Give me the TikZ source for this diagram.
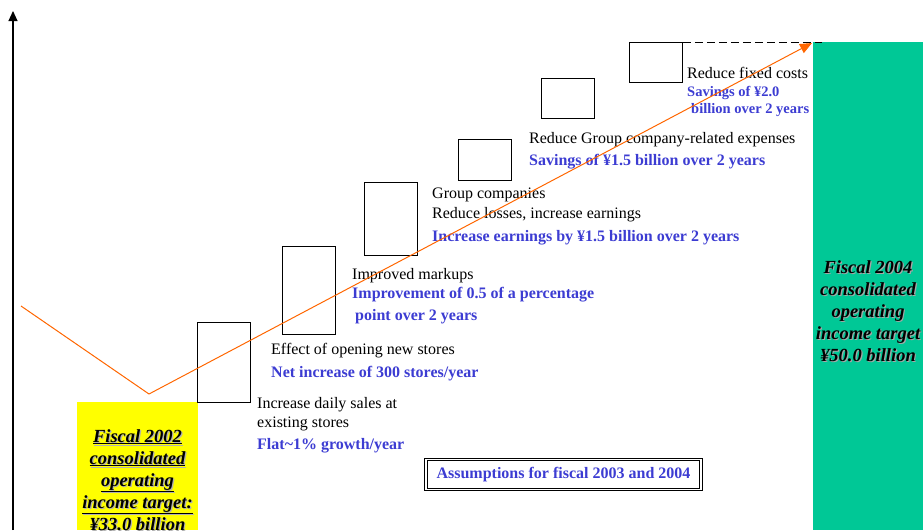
\documentclass[tikz,border=0pt]{standalone}
\usepackage{fontspec}
\setmainfont{Liberation Serif}
\usetikzlibrary{arrows.meta}
\definecolor{planblue}{RGB}{60,60,210}
\definecolor{trendorange}{RGB}{255,102,0}
\definecolor{targetgreen}{RGB}{0,200,150}
\definecolor{baseyellow}{RGB}{255,255,0}
\begin{document}
\begin{tikzpicture}[x=1pt,y=-1pt,
  stepbox/.style={draw=black, line width=0.9pt, inner sep=0, anchor=north west},
  panel/.style={inner sep=0, anchor=north west, draw=none},
  note/.style={anchor=base west, inner sep=0, font=\fontsize{16}{18}\selectfont},
  gain/.style={note, text=planblue, font=\fontsize{16}{18}\selectfont\bfseries},
  smallgain/.style={note, text=planblue, font=\fontsize{14.5}{17}\selectfont\bfseries},
  targettext/.style={anchor=base, inner sep=0, font=\fontsize{18.5}{21}\selectfont\bfseries\itshape},
  trend/.style={draw=trendorange, line width=1pt},
]
\useasboundingbox (0,0) rectangle (923,530);

% target panels
\node[panel, fill=baseyellow, minimum width=121, minimum height=128] (startbox) at (77,402) {};
\node[panel, fill=targetgreen, minimum width=110, minimum height=488] (goalbox) at (813,42) {};

% vertical axis
\coordinate (axisfoot) at (13,530);
\coordinate (axistop) at (13,11);
\draw[line width=1.1pt, -{Triangle[length=10pt,width=9pt]}] (axisfoot) -- (axistop);

% step boxes
\node[stepbox, minimum width=53, minimum height=80] (s1) at (197,322) {};
\node[stepbox, minimum width=53, minimum height=88] (s2) at (282,246) {};
\node[stepbox, minimum width=53, minimum height=73] (s3) at (364,182) {};
\node[stepbox, minimum width=53, minimum height=41] (s4) at (458,139) {};
\node[stepbox, minimum width=53, minimum height=40] (s5) at (541,78) {};
\node[stepbox, minimum width=53, minimum height=40] (s6) at (629,42) {};

% level line to the target
\coordinate (dashend) at (822,42);
\draw[line width=0.9pt, dash pattern=on 8pt off 4pt] (s6.north east) -- (dashend);

% step labels
\node[note] (t1a) at (257,408) {Increase daily sales at};
\node[note] (t1b) at (257,427) {existing stores};
\node[gain] (t1c) at (257,449) {Flat\textasciitilde1\% growth/year};

\node[note] (t2a) at (271,354) {Effect of opening new stores};
\node[gain] (t2b) at (271,377) {Net increase of 300 stores/year};

\node[note] (t3a) at (352,279) {Improved markups};
\node[gain] (t3b) at (352,298) {Improvement of 0.5 of a percentage};
\node[gain] (t3c) at (355,320) {point over 2 years};

\node[note] (t4a) at (432,198) {Group companies};
\node[note] (t4b) at (432,218) {Reduce losses, increase earnings};
\node[gain] (t4c) at (432,241) {Increase earnings by ¥1.5 billion over 2 years};

\node[note] (t5a) at (529,143) {Reduce Group company-related expenses};
\node[gain] (t5b) at (529,165) {Savings of ¥1.5 billion over 2 years};

\node[note] (t6a) at (687,78) {Reduce fixed costs};
\node[smallgain] (t6b) at (687,96) {Savings of ¥2.0};
\node[smallgain] (t6c) at (691,113) {billion over 2 years};

% assumptions caption
\node[draw=black, double=white, double distance=1.6pt, line width=0.9pt,
      minimum width=275, minimum height=30, inner sep=0,
      text=planblue, font=\fontsize{16}{18}\selectfont\bfseries] (assume) at (563.5,474.5)
      {Assumptions for fiscal 2003 and 2004};

% income targets (text with a soft grey shadow)
\foreach \line [count=\i] in {Fiscal 2002, consolidated, operating, income target:, ¥33.0 billion} {
  \node[targettext, text=black!30] (ys\i) at (138.7,{421.2+22*\i}) {\underline{\line}};
  \node[targettext] (y\i) at (137.5,{420+22*\i}) {\underline{\line}};
}
\foreach \line [count=\i] in {Fiscal 2004, consolidated, operating, income target, ¥50.0 billion} {
  \node[targettext, text=black!35] (gs\i) at (869.2,{252.2+22*\i}) {\line};
  \node[targettext] (g\i) at (868,{251+22*\i}) {\line};
}

% income path
\coordinate (pathstart) at (21,306);
\coordinate (pathlow) at (149,394);
\coordinate (pathgoal) at (812,43);
\draw[trend] (pathstart) -- (pathlow);
\draw[trend, -{Triangle[length=12pt,width=10pt]}] (pathlow) -- (pathgoal);
\end{tikzpicture}
\end{document}
